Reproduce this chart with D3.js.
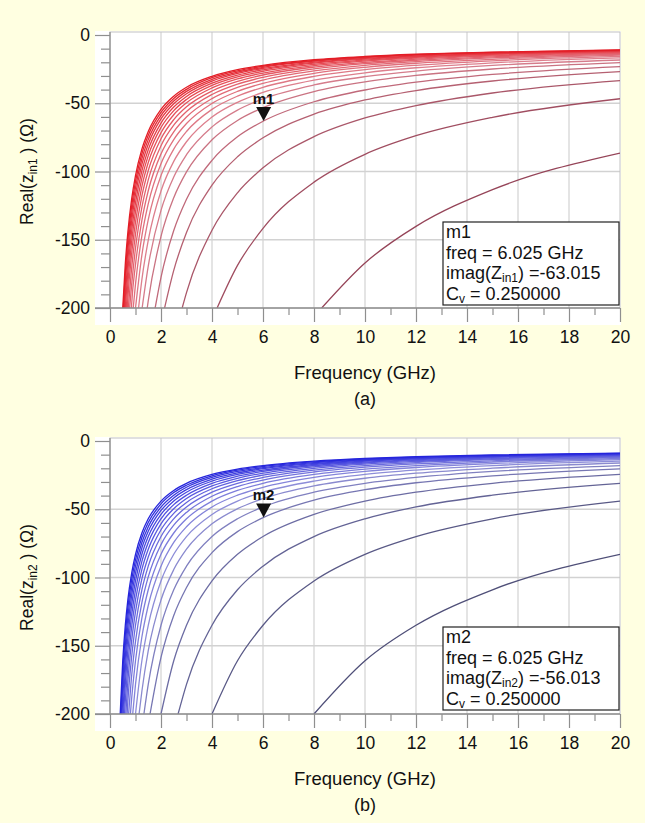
<!DOCTYPE html>
<html>
<head>
<meta charset="utf-8">
<script src="https://cdn.jsdelivr.net/npm/d3@7"></script>
<style>
  html, body { margin: 0; padding: 0; background: #ffffe1; }
  svg { display: block; }
  text { font-family: "Liberation Sans", Arial, sans-serif; fill: #111; }
</style>
</head>
<body>
<svg id="chart" width="645" height="823"></svg>
<script>
// Frequency grid (GHz) shared by every trace of the Cv sweep
const freqGHz = [0.5, 0.6, 0.7, 0.85, 1, 1.25, 1.5, 2, 2.5, 3, 4, 5, 6, 8, 10, 12, 15, 20];

// Swept varactor values, one trace each
const cvSweep = [0.05, 0.10, 0.15, 0.20, 0.25, 0.30, 0.35, 0.40, 0.45, 0.50,
                 0.55, 0.60, 0.65, 0.70, 0.75, 0.80, 0.85, 0.90, 0.95, 1.00];

// Panel (a): frequency where each trace enters the plot at -200 ohm
const entryA = [8.30, 4.20, 2.83, 2.14, 1.77, 1.46, 1.26, 1.12, 1.00, 0.91,
                0.84, 0.77, 0.72, 0.68, 0.64, 0.60, 0.57, 0.55, 0.52, 0.50];

// Panel (a): each row holds the values at the last row.length frequencies of freqGHz
const realZin1 = [
  [-167.0, -140.2, -113.3, -86.5],
  [-168.8, -141.7, -107.8, -87.4, -73.8, -60.3, -46.7],
  [-188.7, -143.0, -115.6, -97.3, -74.5, -60.8, -51.7, -42.5, -33.4],
  [-172.4, -144.7, -110.0, -89.2, -75.3, -58.0, -47.6, -40.7, -33.7, -26.8],
  [-177.5, -143.2, -120.3, -91.8, -74.6, -63.2, -48.9, -40.3, -34.6, -28.9, -23.2],
  [-194.7, -147.5, -119.2, -100.3, -76.8, -62.6, -53.2, -41.4, -34.3, -29.6, -24.9, -20.2],
  [-169.3, -128.5, -104.0, -87.7, -67.3, -55.0, -46.8, -36.6, -30.5, -26.4, -22.3, -18.3],
  [-179.2, -150.3, -114.3, -92.6, -78.2, -60.1, -49.3, -42.1, -33.1, -27.7, -24.0, -20.4, -16.8],
  [-161.2, -135.3, -103.0, -83.6, -70.7, -54.5, -44.8, -38.3, -30.3, -25.4, -22.2, -18.9, -15.7],
  [-182.5, -147.2, -123.7, -94.3, -76.6, -64.8, -50.1, -41.3, -35.4, -28.1, -23.7, -20.7, -17.8, -14.8],
  [-196.8, -168.2, -135.8, -114.1, -87.1, -70.9, -60.1, -46.6, -38.4, -33.0, -26.3, -22.2, -19.5, -16.8, -14.1],
  [-182.7, -156.2, -126.2, -106.1, -81.1, -66.1, -56.1, -43.6, -36.0, -31.0, -24.8, -21.0, -18.5, -16.0, -13.5],
  [-170.6, -145.9, -117.9, -99.3, -76.0, -62.0, -52.6, -41.0, -34.0, -29.3, -23.5, -20.0, -17.7, -15.3, -13.0],
  [-193.3, -160.2, -137.1, -110.9, -93.4, -71.6, -58.4, -49.7, -38.8, -32.2, -27.9, -22.4, -19.1, -16.9, -14.7, -12.6],
  [-182.6, -151.4, -129.6, -104.9, -88.4, -67.8, -55.4, -47.2, -36.9, -30.7, -26.6, -21.5, -18.4, -16.3, -14.2, -12.2],
  [-173.1, -143.6, -123.0, -99.6, -84.0, -64.5, -52.8, -45.0, -35.3, -29.4, -25.5, -20.6, -17.7, -15.8, -13.8, -11.9],
  [-191.0, -164.6, -136.6, -117.0, -94.8, -80.0, -61.5, -50.4, -43.0, -33.8, -28.2, -24.5, -19.9, -17.1, -15.3, -13.4, -11.6],
  [-182.5, -157.3, -130.6, -111.9, -90.7, -76.6, -59.0, -48.4, -41.3, -32.5, -27.2, -23.7, -19.2, -16.6, -14.8, -13.1, -11.3],
  [-174.8, -150.7, -125.2, -107.3, -87.0, -73.5, -56.7, -46.5, -39.8, -31.3, -26.3, -22.9, -18.7, -16.1, -14.4, -12.8, -11.1],
  [-167.7, -144.6, -120.1, -103.0, -83.6, -70.7, -54.5, -44.8, -38.3, -30.3, -25.4, -22.2, -18.1, -15.7, -14.1, -12.5, -10.9]
];

// Panel (b): entry frequencies at -200 ohm
const entryB = [8.00, 4.00, 2.67, 2.00, 1.57, 1.33, 1.14, 1.00, 0.89, 0.80,
                0.73, 0.67, 0.62, 0.57, 0.53, 0.50, 0.47, 0.44, 0.42, 0.40];

// Panel (b): values at the last row.length frequencies of freqGHz
const realZin2 = [
  [-161.0, -135.0, -109.0, -83.0],
  [-161.0, -135.0, -102.5, -83.0, -70.0, -57.0, -44.0],
  [-178.3, -135.0, -109.0, -91.7, -70.0, -57.0, -48.3, -39.7, -31.0],
  [-161.0, -135.0, -102.5, -83.0, -70.0, -53.8, -44.0, -37.5, -31.0, -24.5],
  [-158.5, -127.8, -107.3, -81.8, -66.4, -56.2, -43.4, -35.7, -30.6, -25.5, -20.4],
  [-178.3, -135.0, -109.0, -91.7, -70.0, -57.0, -48.3, -37.5, -31.0, -26.7, -22.3, -18.0],
  [-183.3, -153.6, -116.5, -94.2, -79.3, -60.7, -49.6, -42.2, -32.9, -27.3, -23.6, -19.9, -16.1],
  [-161.0, -135.0, -102.5, -83.0, -70.0, -53.8, -44.0, -37.5, -29.4, -24.5, -21.3, -18.0, -14.8],
  [-178.3, -143.6, -120.5, -91.7, -74.3, -62.8, -48.3, -39.7, -33.9, -26.7, -22.3, -19.4, -16.6, -13.7],
  [-188.5, -161.0, -129.8, -109.0, -83.0, -67.4, -57.0, -44.0, -36.2, -31.0, -24.5, -20.6, -18.0, -15.4, -12.8],
  [-171.8, -146.8, -118.4, -99.5, -75.9, -61.7, -52.3, -40.5, -33.4, -28.6, -22.7, -19.2, -16.8, -14.5, -12.1],
  [-190.7, -157.9, -135.0, -109.0, -91.7, -70.0, -57.0, -48.3, -37.5, -31.0, -26.7, -21.3, -18.0, -15.8, -13.7, -11.5],
  [-176.4, -146.2, -125.0, -101.0, -85.0, -65.0, -53.0, -45.0, -35.0, -29.0, -25.0, -20.0, -17.0, -15.0, -13.0, -11.0],
  [-190.7, -164.1, -136.1, -116.4, -94.1, -79.3, -60.7, -49.6, -42.1, -32.9, -27.3, -23.6, -18.9, -16.1, -14.3, -12.4, -10.6],
  [-178.3, -153.6, -127.4, -109.0, -88.2, -74.3, -57.0, -46.6, -39.7, -31.0, -25.8, -22.3, -18.0, -15.4, -13.7, -11.9, -10.2],
  [-167.5, -144.3, -119.7, -102.5, -83.0, -70.0, -53.8, -44.0, -37.5, -29.4, -24.5, -21.3, -17.2, -14.8, -13.1, -11.5, -9.9],
  [-188.6, -158.0, -136.1, -113.0, -96.8, -78.4, -66.2, -50.9, -41.7, -35.6, -28.0, -23.4, -20.3, -16.5, -14.2, -12.7, -11.1, -9.6],
  [-178.4, -149.5, -128.9, -107.0, -91.7, -74.4, -62.8, -48.4, -39.7, -33.9, -26.7, -22.3, -19.5, -15.8, -13.7, -12.2, -10.8, -9.3],
  [-169.2, -141.8, -122.3, -101.6, -87.1, -70.7, -59.7, -46.1, -37.8, -32.4, -25.5, -21.4, -18.7, -15.3, -13.2, -11.8, -10.5, -9.1],
  [-161.0, -135.0, -116.4, -96.8, -83.0, -67.4, -57.0, -44.0, -36.2, -31.0, -24.5, -20.6, -18.0, -14.8, -12.8, -11.5, -10.2, -8.9]
];

// Axis ticks
const xTicks = [0, 2, 4, 6, 8, 10, 12, 14, 16, 18, 20];
const xMinorTicks = [1, 3, 5, 7, 9, 11, 13, 15, 17, 19];
const yTicks = [0, -50, -100, -150, -200];
const yMinorTicks = [-10, -20, -30, -40, -60, -70, -80, -90, -110, -120, -130, -140,
                     -160, -170, -180, -190];

// Marker readouts
const markerA = { name: "m1", freq: 6.025, value: -63.015, cv: 0.25, sub: "in1" };
const markerB = { name: "m2", freq: 6.025, value: -56.013, cv: 0.25, sub: "in2" };

const svg = d3.select("#chart");
const x = d3.scaleLinear().domain([0, 20]).range([110, 620]);
const plain = d => String(d);
let clipId = 0;

function drawPanel(cfg) {
  const g = svg.append("g");
  const y = d3.scaleLinear().domain([-200, 0]).range([cfg.yBottom, cfg.yTop]);
  const top = cfg.yTop - 3;
  const bottom = cfg.yBottom;

  // white plotting field (also behind the tick area)
  g.append("rect")
    .attr("x", 95).attr("y", top - 1)
    .attr("width", 621 - 95).attr("height", bottom + 17 - top + 1)
    .attr("fill", "#ffffff");

  // grid
  g.selectAll(null).data(xTicks.filter(d => d > 0 && d < 20)).join("line")
    .attr("x1", d => x(d)).attr("x2", d => x(d))
    .attr("y1", top).attr("y2", bottom)
    .attr("stroke", "#d2d2d2").attr("stroke-width", 1.2);
  g.selectAll(null).data(yTicks.filter(d => d < 0 && d > -200)).join("line")
    .attr("x1", x(0)).attr("x2", x(20))
    .attr("y1", d => y(d)).attr("y2", d => y(d))
    .attr("stroke", "#d2d2d2").attr("stroke-width", 1.4);

  // plot frame
  g.append("rect")
    .attr("x", x(0)).attr("y", top)
    .attr("width", x(20) - x(0)).attr("height", bottom - top)
    .attr("fill", "none").attr("stroke", "#c2c2c2").attr("stroke-width", 1);

  // traces
  const id = "clip" + (clipId++);
  svg.append("defs").append("clipPath").attr("id", id)
    .append("rect").attr("x", x(0)).attr("y", top)
    .attr("width", x(20) - x(0)).attr("height", bottom - top);

  const color = d3.scaleLinear()
    .domain([0, 0.35, 0.7, 1])
    .range(cfg.colors)
    .interpolate(d3.interpolateRgb);

  const line = d3.line()
    .x(d => x(d[0])).y(d => y(d[1]))
    .curve(d3.curveMonotoneX);

  const n = cfg.rows.length;
  const traces = cfg.rows.map((row, i) => {
    const start = freqGHz.length - row.length;
    return [[cfg.entry[i], -200]].concat(row.map((v, k) => [freqGHz[start + k], v]));
  });

  g.append("g").attr("clip-path", `url(#${id})`)
    .selectAll("path").data(traces).join("path")
    .attr("d", line)
    .attr("fill", "none")
    .attr("stroke", (d, i) => color(i / (n - 1)))
    .attr("stroke-width", 1.3);

  // y axis: minor then major ticks with labels
  const yMinor = g.append("g").attr("transform", `translate(${x(0)},0)`)
    .call(d3.axisLeft(y).tickValues(yMinorTicks).tickSize(9).tickSizeOuter(0).tickFormat(""));
  const yMajor = g.append("g").attr("transform", `translate(${x(0)},0)`)
    .call(d3.axisLeft(y).tickValues(yTicks).tickSize(15).tickSizeOuter(0).tickPadding(5).tickFormat(plain));

  // x axis
  const xMinor = g.append("g").attr("transform", `translate(0,${bottom})`)
    .call(d3.axisBottom(x).tickValues(xMinorTicks).tickSize(7).tickSizeOuter(0).tickFormat(""));
  const xMajor = g.append("g").attr("transform", `translate(0,${bottom})`)
    .call(d3.axisBottom(x).tickValues(xTicks).tickSize(14).tickSizeOuter(0).tickPadding(9).tickFormat(plain));

  [yMinor, yMajor, xMinor, xMajor].forEach(a => {
    a.select(".domain").remove();
    a.selectAll(".tick line").attr("stroke", "#8f8f8f").attr("stroke-width", 1.2);
    a.selectAll(".tick text")
      .style("font-family", '"Liberation Sans", Arial, sans-serif')
      .style("font-size", "17.5px").attr("fill", "#111");
  });

  // axis lines
  g.append("line")
    .attr("x1", 95).attr("x2", x(20))
    .attr("y1", bottom).attr("y2", bottom)
    .attr("stroke", "#8f8f8f").attr("stroke-width", 1.3);
  g.append("line")
    .attr("x1", x(0)).attr("x2", x(0))
    .attr("y1", top).attr("y2", bottom)
    .attr("stroke", "#8f8f8f").attr("stroke-width", 1.3);

  // axis titles
  const yTitle = g.append("text")
    .attr("transform", `translate(33,${(cfg.yTop + cfg.yBottom) / 2}) rotate(-90)`)
    .attr("text-anchor", "middle")
    .style("font-size", "17.5px");
  yTitle.append("tspan").text("Real(z");
  yTitle.append("tspan").text(cfg.sub).attr("font-size", "12px").attr("dy", 4);
  yTitle.append("tspan").text(" ) (Ω)").attr("dy", -4);

  g.append("text")
    .attr("x", (x(0) + x(20)) / 2).attr("y", bottom + 71)
    .attr("text-anchor", "middle")
    .style("font-size", "18.5px")
    .text("Frequency (GHz)");

  g.append("text")
    .attr("x", (x(0) + x(20)) / 2).attr("y", bottom + 97)
    .attr("text-anchor", "middle")
    .style("font-size", "18px")
    .text(cfg.caption);

  // marker
  const m = cfg.marker;
  const mx = x(m.freq), my = y(m.value);
  g.append("path")
    .attr("d", `M${mx - 7.5},${my - 14}L${mx + 7.5},${my - 14}L${mx},${my}Z`)
    .attr("fill", "#111");
  g.append("text")
    .attr("x", mx).attr("y", my - 17)
    .attr("text-anchor", "middle")
    .style("font-size", "15px").style("font-weight", "bold")
    .attr("fill", "#333")
    .text(m.name);

  // marker readout box
  const bx = 443, by = cfg.boxTop;
  g.append("rect")
    .attr("x", bx).attr("y", by).attr("width", 176).attr("height", 83)
    .attr("fill", "#ffffff").attr("stroke", "#222").attr("stroke-width", 1.2);
  const lx = bx + 3;
  const fs = "18px";
  g.append("text").attr("x", lx).attr("y", by + 16).style("font-size", fs).text(m.name);
  g.append("text").attr("x", lx).attr("y", by + 36.5).style("font-size", fs)
    .text(`freq = ${m.freq.toFixed(3)} GHz`);
  const t3 = g.append("text").attr("x", lx).attr("y", by + 57).style("font-size", fs);
  t3.append("tspan").text("imag(Z");
  t3.append("tspan").text(m.sub).attr("font-size", "12px").attr("dy", 3);
  t3.append("tspan").text(`) =${m.value.toFixed(3)}`).attr("dy", -3);
  const t4 = g.append("text").attr("x", lx).attr("y", by + 78).style("font-size", fs);
  t4.append("tspan").text("C");
  t4.append("tspan").text("v").attr("font-size", "12px").attr("dy", 3);
  t4.append("tspan").text(` = ${m.cv.toFixed(6)}`).attr("dy", -3);
}

drawPanel({
  yTop: 35, yBottom: 308, boxTop: 222,
  entry: entryA, rows: realZin1, sub: "in1", caption: "(a)", marker: markerA,
  colors: ["#954458", "#dc8290", "#e6505a", "#e31c25"]
});

drawPanel({
  yTop: 441, yBottom: 714, boxTop: 627,
  entry: entryB, rows: realZin2, sub: "in2", caption: "(b)", marker: markerB,
  colors: ["#4f4f78", "#9090d8", "#5656e0", "#2424dc"]
});
</script>
</body>
</html>
